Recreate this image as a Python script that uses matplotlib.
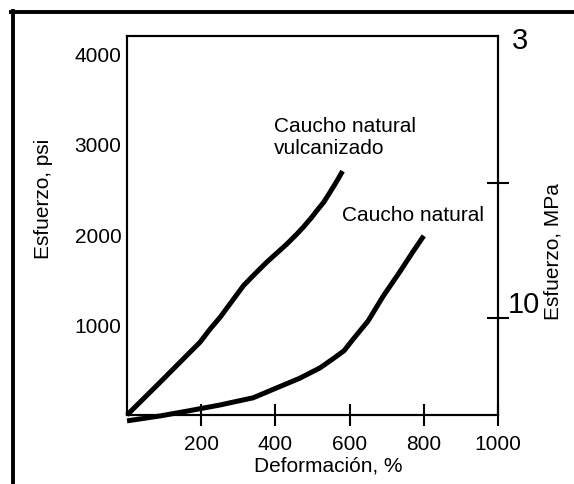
import matplotlib
matplotlib.use("Agg")
import matplotlib.pyplot as plt
from matplotlib.lines import Line2D

plt.rcParams["font.family"] = ["Liberation Sans", "DejaVu Sans"]

# strain (%) and stress (psi)
vulc_strain = [0, 90, 170, 197, 224, 251, 287, 314, 345, 377, 404, 431,
               458, 475, 498, 512, 530, 547, 565, 581]
vulc_stress = [0, 365, 695, 805, 950, 1080, 1280, 1430, 1560, 1690, 1790,
               1890, 2000, 2075, 2185, 2260, 2350, 2460, 2580, 2695]

nat_strain = [0, 90, 165, 250, 340, 395, 465, 520, 555, 585, 610, 650,
              690, 735, 770, 800]
nat_stress = [-65, -10, 45, 110, 190, 285, 405, 520, 620, 710, 840, 1040,
              1310, 1580, 1800, 1980]

x_ticks = [200, 400, 600, 800, 1000]
psi_ticks = [1000, 2000, 3000, 4000]
mpa_ticks = [10, 20]
mpa_labels = ["10", ""]
mpa_top_value = 30
mpa_top_label = "3"

fig = plt.figure(figsize=(5.74, 4.85), dpi=100)
ax = fig.add_axes([0.2213, 0.1423, 0.6463, 0.7814])

for xs, ys in [(vulc_strain, vulc_stress), (nat_strain, nat_stress)]:
    ax.plot(xs, ys, "k-", lw=3.6, clip_on=False,
            solid_capstyle="butt", solid_joinstyle="round")

ax.set_xlim(0, 1000)
ax.set_ylim(0, 4188)

for s in ax.spines.values():
    s.set_linewidth(1.5)

ax.set_xticks(x_ticks)
ax.tick_params(axis="x", direction="inout", length=16, width=1.5,
               labelsize=15, pad=6)
ax.set_yticks(psi_ticks)
ax.tick_params(axis="y", length=0, labelsize=15, pad=4)

ax.set_xlabel("Deformación, %", fontsize=15)
ax.xaxis.set_label_coords(0.542, -0.107)
ax.set_ylabel("Esfuerzo, psi", fontsize=15)
ax.yaxis.set_label_coords(-0.199, 0.572)

ax.text(396, 3304, "Caucho natural\nvulcanizado", fontsize=15,
        ha="left", va="top")
ax.text(580, 2320, "Caucho natural", fontsize=15, ha="left", va="top")

# right axis in MPa
ax2 = ax.twinx()
ax2.set_ylim(2.81, 30.89)
ax2.set_yticks(mpa_ticks)
ax2.set_yticklabels(mpa_labels, va="bottom")
ax2.tick_params(axis="y", direction="inout", length=16, width=1.5,
                labelsize=21, pad=-1)
for s in ax2.spines.values():
    s.set_linewidth(1.5)
ax2.set_ylabel("Esfuerzo, MPa", fontsize=15)
ax2.yaxis.set_label_coords(1.123, 0.435)

ax2.annotate(mpa_top_label, xy=(1, mpa_top_value),
             xycoords=("axes fraction", "data"),
             xytext=(14, 0), textcoords="offset pixels",
             fontsize=21, ha="left", va="baseline")

# outer frame (left and top edges only visible)
fig.add_artist(Line2D([0.022, 0.022], [0.976, -0.05], color="k", lw=2.8,
                      transform=fig.transFigure))
fig.add_artist(Line2D([0.019, 1.05], [0.974, 0.974], color="k", lw=2.8,
                      transform=fig.transFigure))

fig.savefig("out.png", dpi=100)
